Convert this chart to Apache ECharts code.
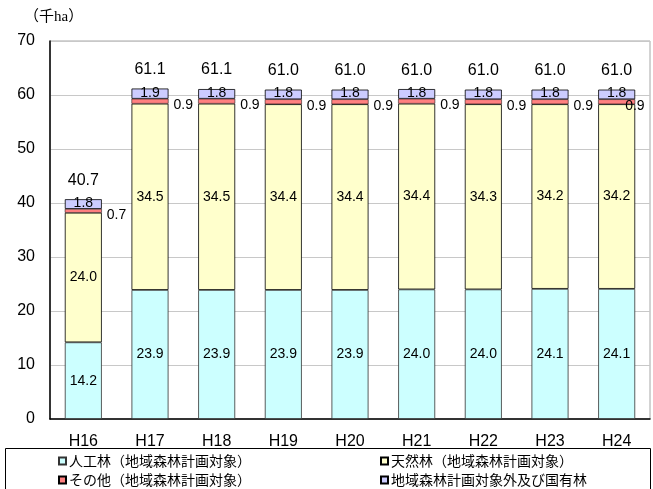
<!DOCTYPE html>
<html>
<head>
<meta charset="utf-8">
<script src="https://cdn.jsdelivr.net/npm/echarts@6/dist/echarts.min.js"></script>
<style>
  html, body { margin: 0; padding: 0; background: #fff; }
  #chart { width: 653px; height: 489px; }
</style>
</head>
<body>
<div id="chart"></div>
<script>
// Fiscal years
const years = ['H16', 'H17', 'H18', 'H19', 'H20', 'H21', 'H22', 'H23', 'H24'];

// Forest area by type (千ha)
const planted   = [14.2, 23.9, 23.9, 23.9, 23.9, 24.0, 24.0, 24.1, 24.1];
const natural   = [24.0, 34.5, 34.5, 34.4, 34.4, 34.4, 34.3, 34.2, 34.2];
const other     = [0.7, 0.9, 0.9, 0.9, 0.9, 0.9, 0.9, 0.9, 0.9];
const national  = [1.8, 1.9, 1.8, 1.8, 1.8, 1.8, 1.8, 1.8, 1.8];
const totals    = [40.7, 61.1, 61.1, 61.0, 61.0, 61.0, 61.0, 61.0, 61.0];

// Series names
const names = [
  '人工林（地域森林計画対象）',
  '天然林（地域森林計画対象）',
  'その他（地域森林計画対象）',
  '地域森林計画対象外及び国有林'
];

// Y-axis range
const yMin = 0, yMax = 70, yStep = 10;

const NUM_FONT = '"Liberation Sans", Arial, sans-serif';
const JP_FONT = '"Noto Sans CJK JP", "Liberation Sans", sans-serif';
const fmt = p => Number(p.value).toFixed(1);

const barBase = {
  type: 'bar',
  stack: 'total',
  barWidth: 37,
  itemStyle: { borderColor: '#000', borderWidth: 0.8 }
};

const insideLabel = {
  show: true,
  position: 'inside',
  color: '#000',
  fontFamily: NUM_FONT,
  fontSize: 14,
  formatter: fmt
};

// The last red-segment label is nudged left to stay inside the plot
const otherData = other.map((v, i) => i === other.length - 1
  ? { value: v, label: { offset: [-15, 4] } }
  : v);

function legendAt(name, left, top) {
  return {
    data: [name],
    left: left,
    top: top,
    padding: 0,
    icon: 'rect',
    itemWidth: 7,
    itemHeight: 7,
    itemGap: 0,
    selectedMode: false,
    textStyle: { fontFamily: JP_FONT, fontSize: 14, color: '#000', padding: [0, 0, 0, -2] }
  };
}

const chart = echarts.init(document.getElementById('chart'), null, { renderer: 'canvas' });

chart.setOption({
  animation: false,
  backgroundColor: '#fff',
  grid: {
    left: 50, right: 3, top: 41, bottom: 70,
    show: true, borderColor: '#a6a6a6', borderWidth: 1
  },
  graphic: [
    {
      type: 'text',
      left: 24, top: 10,
      style: {
        text: '（千ha）',
        fill: '#000',
        font: '15px "Liberation Serif", "Noto Sans CJK JP", serif'
      }
    },
    {
      type: 'rect',
      shape: { x: 5.5, y: 448.5, width: 645, height: 50 },
      style: { fill: 'none', stroke: '#000', lineWidth: 1 },
      z: 0
    }
  ],
  legend: [
    legendAt(names[0], 58, 454),
    legendAt(names[1], 380, 454),
    legendAt(names[2], 58, 473),
    legendAt(names[3], 380, 473)
  ],
  xAxis: {
    type: 'category',
    data: years,
    axisLine: { lineStyle: { color: '#000', width: 1.5 } },
    axisTick: { show: false },
    axisLabel: { color: '#000', fontFamily: NUM_FONT, fontSize: 16, margin: 15 }
  },
  yAxis: {
    type: 'value',
    min: yMin, max: yMax, interval: yStep,
    axisLine: { show: true, lineStyle: { color: '#000', width: 1.5 } },
    axisTick: { show: false },
    splitLine: { lineStyle: { color: '#c8c8c8', width: 1 } },
    axisLabel: { color: '#000', fontFamily: NUM_FONT, fontSize: 16, margin: 15 }
  },
  series: [
    Object.assign({}, barBase, {
      name: names[0],
      data: planted,
      itemStyle: { color: '#CCFFFF', borderColor: '#333', borderWidth: 0.8 },
      label: insideLabel
    }),
    Object.assign({}, barBase, {
      name: names[1],
      data: natural,
      itemStyle: { color: '#FFFFCC', borderColor: '#000', borderWidth: 0.8 },
      label: insideLabel
    }),
    Object.assign({}, barBase, {
      name: names[2],
      data: otherData,
      itemStyle: { color: '#FF8080', borderColor: '#000', borderWidth: 0.5 },
      label: {
        show: true,
        position: 'right',
        distance: 5,
        offset: [0, 4],
        color: '#000',
        fontFamily: NUM_FONT,
        fontSize: 14,
        formatter: fmt
      }
    }),
    Object.assign({}, barBase, {
      name: names[3],
      data: national,
      itemStyle: { color: '#CCCCFF', borderColor: '#000', borderWidth: 0.8 },
      label: Object.assign({}, insideLabel, { offset: [0, -1] })
    }),
    {
      // Totals shown above each stack
      type: 'scatter',
      name: '合計',
      data: totals,
      symbolSize: 0,
      silent: true,
      z: 5,
      itemStyle: { opacity: 1 },
      label: {
        show: true,
        position: 'top',
        distance: 11,
        color: '#000',
        opacity: 1,
        fontFamily: NUM_FONT,
        fontSize: 16,
        formatter: fmt
      }
    }
  ]
});
</script>
</body>
</html>
